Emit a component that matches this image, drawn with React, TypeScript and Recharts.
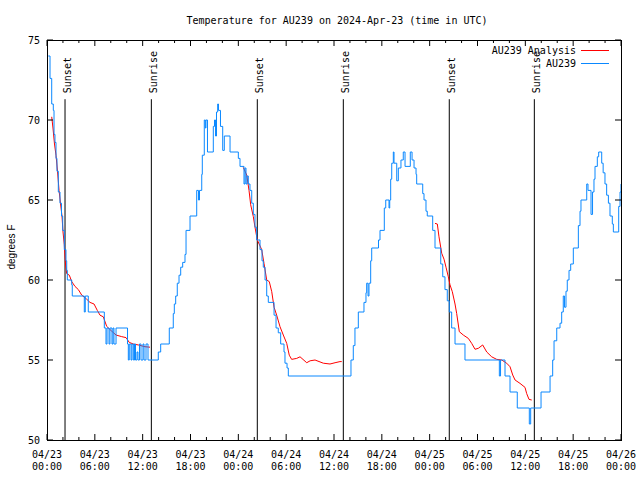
import React from 'react';
import { LineChart, Line, XAxis, YAxis, ReferenceLine, ReferenceDot } from 'recharts';

// hours since 04/23 00:00 UTC
const obsHours = [
  0.16, 0.38, 0.59, 0.79, 0.88, 1.0, 1.13, 1.25, 1.42, 1.63, 1.82, 1.97, 2.17, 2.38, 2.47, 2.55, 3.1, 3.17,
  4.68, 4.8, 5.18, 7.19, 7.4, 7.53, 7.78, 7.9, 8.15, 8.28, 8.4, 8.66, 10.1, 10.2, 10.32, 10.54, 10.66, 10.83,
  10.98, 11.1, 11.29, 11.41, 11.6, 11.79, 12.04, 12.17, 12.42, 12.67, 13.96, 14.26, 15.34, 15.84, 15.97, 16.14,
  16.34, 16.56, 16.77, 17.02, 17.31, 17.44, 17.94, 18.78, 19.0, 19.13, 19.41, 19.48, 19.73, 19.86, 19.94, 20.13,
  20.86, 21.01, 21.14, 21.26, 21.41, 21.51, 21.76, 22.04, 22.24, 22.96, 24.0, 24.21, 24.71, 24.84, 24.96, 25.09,
  25.25, 25.46, 25.68, 25.88, 26.09, 26.3, 26.72, 26.97, 27.13, 27.35, 27.56, 27.76, 28.48, 28.73, 29.01, 29.31,
  29.73, 29.85, 30.11, 30.27, 38.13, 38.42, 38.63, 39.05, 39.76, 40.01, 40.1, 40.27, 40.39, 40.6, 40.73, 41.58,
  41.77, 42.31, 42.49, 42.9, 42.99, 43.11, 43.24, 43.44, 43.53, 43.87, 44.07, 44.4, 44.69, 44.91, 45.57, 45.79,
  46.04, 46.29, 46.37, 47.13, 47.29, 47.54, 47.7, 48.38, 48.67, 49.39, 49.64, 49.92, 50.21, 50.46, 50.76, 51.18,
  52.43, 56.74, 56.89, 57.45, 58.08, 58.99, 60.5, 60.67, 61.97, 63.1, 63.43, 63.6, 63.94, 64.35, 64.56, 64.76,
  64.91, 65.1, 65.26, 65.48, 65.69, 66.02, 66.65, 66.86, 66.98, 67.7, 67.86, 68.24, 68.43, 68.61, 68.74, 69.03,
  69.2, 69.58, 69.76, 69.99, 70.2, 70.42, 70.62, 70.91, 71.04, 71.71, 71.88, 72.0,
];
const obsTemps = [
  74.0, 72.6, 71.0, 70.6, 69.1, 68.6, 67.6, 66.8, 65.5, 64.8, 64.0, 63.1, 61.9, 61.2, 60.6, 60.0, 59.7, 59.0,
  58.0, 59.0, 58.0, 57.0, 56.0, 57.0, 56.0, 57.0, 56.0, 57.0, 56.0, 57.0, 56.0, 55.0, 56.0, 55.0, 56.0, 55.0,
  56.0, 55.0, 55.5, 55.0, 56.0, 55.0, 56.0, 55.0, 56.0, 55.0, 55.5, 56.0, 57.0, 57.9, 58.5, 59.0,
  59.8, 60.3, 60.8, 61.1, 61.6, 63.1, 64.0, 65.6, 65.0, 65.6, 66.6, 67.8, 70.0, 69.5, 70.0, 68.0,
  69.6, 70.0, 69.0, 70.5, 71.0, 70.6, 69.6, 68.1, 69.0, 68.0, 67.6, 67.1, 66.0, 67.0, 66.0, 66.5,
  66.0, 65.6, 64.8, 64.1, 63.3, 62.5, 61.9, 61.2, 60.8, 60.0, 59.0, 58.6, 57.8, 57.0, 56.7, 56.0,
  55.5, 54.8, 54.5, 54.0, 55.0, 55.9, 57.0, 58.0, 58.6, 59.2, 59.8, 59.0, 59.8, 61.2, 62.0, 62.5,
  63.1, 64.5, 65.0, 64.5, 65.0, 66.3, 67.3, 68.0, 67.3, 66.2, 67.0, 67.5, 68.0, 67.1, 68.0, 67.5,
  67.0, 66.6, 66.0, 65.4, 65.0, 64.3, 64.0, 63.1, 62.0, 61.0, 60.2, 59.4, 58.7, 58.0, 57.0, 56.0,
  55.0, 54.0, 55.0, 54.0, 53.0, 52.0, 51.0, 52.0, 53.0, 54.0, 55.0, 56.2, 57.0, 57.3, 58.0, 59.0,
  58.3, 59.3, 60.0, 60.6, 61.0, 62.0, 63.4, 64.3, 65.0, 66.0, 65.6, 64.1, 65.5, 66.3, 67.1, 67.7,
  68.0, 67.3, 66.7, 66.0, 65.3, 64.8, 64.0, 63.5, 63.0, 64.6, 65.5, 66.0,
];

const ana1Hours = [0.59, 0.75, 0.94, 1.13, 1.32, 1.51, 1.69, 1.88, 2.01, 2.17, 2.32, 2.47, 2.8, 3.1, 3.51, 3.93, 4.35, 4.98, 5.39, 5.9, 6.31, 6.65, 7.06, 7.49, 8.12, 8.66, 9.37, 9.91, 10.32, 10.83, 11.45, 12.29, 12.92];
const ana1Temps = [70.2, 69.5, 68.5, 67.8, 66.8, 65.6, 64.8, 64.0, 63.0, 62.2, 61.0, 60.4, 60.3, 59.9, 59.6, 59.4, 59.06, 58.8, 58.6, 58.5, 58.1, 57.8, 57.7, 57.1, 56.8, 56.56, 56.46, 56.4, 56.1, 56.0, 55.94, 55.83, 55.8];
const ana2Hours = [24.62, 25.05, 25.34, 25.55, 25.88, 26.09, 26.38, 26.93, 27.22, 27.56, 27.88, 28.19, 28.48, 28.81, 29.23, 29.64, 30.07, 30.39, 30.69, 31.32, 31.74, 32.58, 33.0, 33.62, 34.66, 35.5, 36.13, 36.75, 36.97];
const ana2Temps = [67.04, 66.56, 65.6, 64.7, 63.96, 63.3, 62.5, 61.9, 61.04, 60.0, 59.9, 59.27, 58.3, 57.8, 57.08, 56.56, 56.04, 55.3, 55.04, 55.1, 55.2, 54.83, 54.95, 55.0, 54.8, 54.75, 54.83, 54.9, 54.9];
const ana3Hours = [48.67, 48.96, 49.17, 49.51, 49.8, 50.05, 50.34, 50.55, 50.84, 51.18, 51.39, 51.72, 52.22, 52.85, 53.27, 53.69, 54.1, 54.65, 55.16, 55.78, 56.41, 57.04, 57.66, 58.08, 58.42, 58.71, 59.33, 59.96, 60.17, 60.46, 60.8];
const ana3Temps = [63.54, 63.5, 62.7, 61.67, 61.3, 60.8, 60.2, 59.7, 59.27, 58.5, 57.9, 56.77, 56.56, 56.35, 56.04, 55.67, 55.73, 55.94, 55.5, 55.2, 55.04, 55.0, 54.8, 54.58, 54.06, 53.75, 53.54, 53.29, 52.9, 52.54, 52.5];

const eventHours = [2.26, 13.09, 26.38, 37.17, 50.46, 61.13];
const eventNames = ['Sunset', 'Sunrise', 'Sunset', 'Sunrise', 'Sunset', 'Sunrise'];
const eventTop = 71.3;

const xTicks = [0, 2, 4, 6, 8, 10, 12, 14, 16, 18, 20, 22, 24, 26, 28, 30, 32, 34, 36, 38, 40, 42, 44, 46, 48, 50, 52, 54, 56, 58, 60, 62, 64, 66, 68, 70, 72];
const labelHours = [0, 6, 12, 18, 24, 30, 36, 42, 48, 54, 60, 66, 72];
const labelDates = ['04/23', '04/23', '04/23', '04/23', '04/24', '04/24', '04/24', '04/24', '04/25', '04/25', '04/25', '04/25', '04/26'];
const labelTimes = ['00:00', '06:00', '12:00', '18:00', '00:00', '06:00', '12:00', '18:00', '00:00', '06:00', '12:00', '18:00', '00:00'];
const yTicks = [50, 55, 60, 65, 70, 75];

const FONT = '"DejaVu Sans Mono", monospace';
const BLUE = '#0a88ff';
const RED = '#ff0000';

// plot frame in px: left 47, top 40, right 621, bottom 440
const PLOT_L = 47;
const PLOT_T = 40;
const PLOT_R = 621;
const PLOT_B = 440;

const toRows = (hs: number[], ts: number[]) => hs.map((h, i) => ({ h, t: ts[i] }));
const obsData = toRows(obsHours, obsTemps);
const anaSegments = [toRows(ana1Hours, ana1Temps), toRows(ana2Hours, ana2Temps), toRows(ana3Hours, ana3Temps)];

const BottomTick = (props: any) => {
  const { x, payload } = props;
  const y = PLOT_B;
  const idx = labelHours.indexOf(payload.value);
  return (
    <g>
      <line x1={x} y1={y} x2={x} y2={y - (idx >= 0 ? 6 : 3)} stroke="#000" />
      {idx >= 0 && (
        <text x={x} y={y + 18} textAnchor="middle" fontFamily={FONT} fontSize={10} fill="#000">
          <tspan x={x}>{labelDates[idx]}</tspan>
          <tspan x={x} dy={12}>{labelTimes[idx]}</tspan>
        </text>
      )}
    </g>
  );
};

const TopTick = (props: any) => {
  const { x, payload } = props;
  const major = labelHours.includes(payload.value);
  return <line x1={x} y1={PLOT_T} x2={x} y2={PLOT_T + (major ? 6 : 3)} stroke="#000" />;
};

const LeftTick = (props: any) => {
  const { y, payload } = props;
  const x = PLOT_L;
  return (
    <g>
      <line x1={x} y1={y} x2={x + 6} y2={y} stroke="#000" />
      <text x={x - 7} y={y + 4} textAnchor="end" fontFamily={FONT} fontSize={10} fill="#000">
        {payload.value}
      </text>
    </g>
  );
};

const RightTick = (props: any) => {
  const { y } = props;
  return <line x1={PLOT_R} y1={y} x2={PLOT_R - 6} y2={y} stroke="#000" />;
};

const EventLabel = (props: any) => {
  const { viewBox, text } = props;
  const x = viewBox.x + 6;
  const y = viewBox.y - 6;
  return (
    <text x={x} y={y} transform={`rotate(-90, ${x}, ${y})`} fontFamily={FONT} fontSize={10} fill="#000">
      {text}
    </text>
  );
};

export default function App() {
  return (
    <div style={{ position: 'absolute', left: 0, top: 0, width: 640, height: 480, background: '#fff' }}>
      <LineChart width={640} height={480} margin={{ top: 39, right: 18, bottom: 39, left: 46 }}>
        <XAxis
          xAxisId="bottom"
          dataKey="h"
          type="number"
          domain={[0, 72]}
          ticks={xTicks}
          interval={0}
          height={1}
          tickSize={0}
          tickMargin={0}
          tickLine={false}
          axisLine={false}
          tick={<BottomTick />}
          allowDataOverflow
        />
        <XAxis
          xAxisId="top"
          orientation="top"
          dataKey="h"
          type="number"
          domain={[0, 72]}
          ticks={xTicks}
          interval={0}
          height={1}
          tickSize={0}
          tickMargin={0}
          tickLine={false}
          axisLine={false}
          tick={<TopTick />}
          allowDataOverflow
        />
        <YAxis
          yAxisId="left"
          type="number"
          domain={[50, 75]}
          ticks={yTicks}
          interval={0}
          width={1}
          tickSize={0}
          tickMargin={0}
          tickLine={false}
          axisLine={false}
          tick={<LeftTick />}
          allowDataOverflow
        />
        <YAxis
          yAxisId="right"
          orientation="right"
          type="number"
          domain={[50, 75]}
          ticks={yTicks}
          interval={0}
          width={1}
          tickSize={0}
          tickMargin={0}
          tickLine={false}
          axisLine={false}
          tick={<RightTick />}
          allowDataOverflow
        />
        {eventHours.map((h, i) => (
          <ReferenceLine
            key={`ev-${i}`}
            xAxisId="bottom"
            yAxisId="left"
            segment={[{ x: h, y: eventTop }, { x: h, y: 50 }]}
            stroke="#000"
            strokeWidth={1}
          />
        ))}
        {eventHours.map((h, i) => (
          <ReferenceDot
            key={`evl-${i}`}
            xAxisId="bottom"
            yAxisId="left"
            x={h}
            y={eventTop}
            r={0}
            stroke="none"
            fill="none"
            label={(p: any) => <EventLabel {...p} text={eventNames[i]} />}
          />
        ))}
        {anaSegments.map((seg, i) => (
          <Line
            key={`ana-${i}`}
            xAxisId="bottom"
            yAxisId="left"
            data={seg}
            dataKey="t"
            type="linear"
            stroke={RED}
            strokeWidth={1}
            dot={false}
            activeDot={false}
            isAnimationActive={false}
          />
        ))}
        <Line
          xAxisId="bottom"
          yAxisId="left"
          data={obsData}
          dataKey="t"
          type="stepAfter"
          stroke={BLUE}
          strokeWidth={1}
          dot={false}
          activeDot={false}
          isAnimationActive={false}
        />
      </LineChart>
      <svg width={640} height={480} style={{ position: 'absolute', left: 0, top: 0, pointerEvents: 'none' }}>
        <rect x={PLOT_L + 0.5} y={PLOT_T + 0.5} width={PLOT_R - PLOT_L} height={PLOT_B - PLOT_T} fill="none" stroke="#000" />
        <text x={337} y={24} textAnchor="middle" fontFamily={FONT} fontSize={10} fill="#000">
          Temperature for AU239 on 2024-Apr-23 (time in UTC)
        </text>
        <text
          x={15}
          y={247}
          transform="rotate(-90, 15, 247)"
          textAnchor="middle"
          fontFamily='"Liberation Sans", sans-serif'
          fontSize={10}
          fill="#000"
        >
          degrees F
        </text>
        <text x={576} y={54} textAnchor="end" fontFamily={FONT} fontSize={10} fill="#000">
          AU239 Analysis
        </text>
        <line x1={581} y1={50.5} x2={609} y2={50.5} stroke={RED} />
        <text x={576} y={67} textAnchor="end" fontFamily={FONT} fontSize={10} fill="#000">
          AU239
        </text>
        <line x1={581} y1={63.5} x2={609} y2={63.5} stroke={BLUE} />
      </svg>
    </div>
  );
}
